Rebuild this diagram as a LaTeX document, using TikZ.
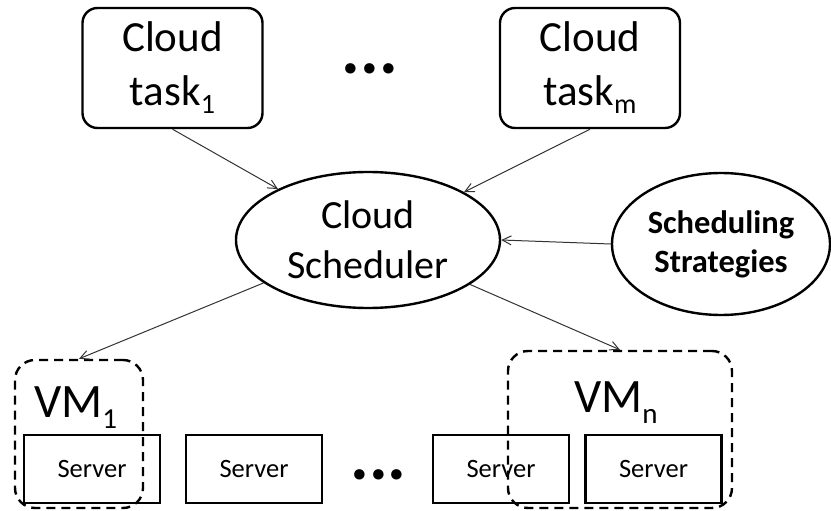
\documentclass[tikz,border=0pt]{standalone}
\usepackage{fontspec}
\setmainfont{Carlito}
\usetikzlibrary{shapes.geometric,arrows.meta}
\newcommand{\fsz}[2]{\fontsize{#1}{#2}\selectfont}
\begin{document}
\begin{tikzpicture}[x=1pt,y=-1pt,
  taskbox/.style={draw,line width=2.4pt,rounded corners=15pt,minimum width=180pt,minimum height=120pt,align=center,inner sep=0pt,font=\fsz{43}{54}},
  ellbox/.style={draw,line width=2.4pt,ellipse,inner sep=0pt,align=center},
  srvbox/.style={draw,line width=2.4pt,minimum width=136pt,minimum height=68pt,inner sep=0pt,font=\fsz{26.5}{30}},
  vmbox/.style={draw,dashed,dash pattern=on 9pt off 6pt,line width=2.4pt,rounded corners=20pt,inner sep=0pt},
  vmtext/.style={anchor=base west,inner sep=0pt,font=\fsz{48}{50}},
  dots/.style={anchor=base,inner sep=0pt,font=\fsz{70}{70}\bfseries},
  conn/.style={draw=black!80,line width=1pt,-{Straight Barb[length=9pt,width=9pt]}}
]
\useasboundingbox (0,0) rectangle (831,511);

\node[taskbox] (t1) at (172.5,68) {Cloud\\task\raisebox{-8pt}{\fsz{28}{28}1}};
\node[taskbox] (tm) at (590,68) {Cloud\\task\raisebox{-8pt}{\fsz{28}{28}m}};
\node[dots] (tdots) at (370,73.5) {...};

\node[ellbox,minimum width=264pt,minimum height=136pt,font=\fsz{40}{50}] (sched) at (368,240) {Cloud\\Scheduler};
\node[ellbox,minimum width=218pt,minimum height=142pt,font=\fsz{32.5}{39}\bfseries] (strat) at (721,244) {Scheduling\\Strategies};

\node[srvbox] (s1) at (92,469) {Server};
\node[srvbox] (s2) at (254,469) {Server};
\node[dots] (bdots) at (378.5,479) {...};
\node[srvbox] (s3) at (501,469) {Server};
\node[srvbox] (s4) at (653.5,469) {Server};

\node[vmbox,minimum width=128pt,minimum height=148pt] (vm1) at (79,434) {};
\node[vmbox,minimum width=224pt,minimum height=157pt] (vmn) at (620,429.5) {};
\node[vmtext] (vm1t) at (34,417) {VM\raisebox{-11pt}{\fsz{29}{29}1}};
\node[vmtext] (vmnt) at (574,412) {VM\raisebox{-11pt}{\fsz{29}{29}n}};

\draw[conn] (t1.south) -- (sched);
\draw[conn] (tm.south) -- (sched);
\draw[conn] (strat.west) -- (sched.east);
\draw[conn] (sched) -- (vm1.north);
\draw[conn] (sched) -- (vmn.north);
\end{tikzpicture}
\end{document}
